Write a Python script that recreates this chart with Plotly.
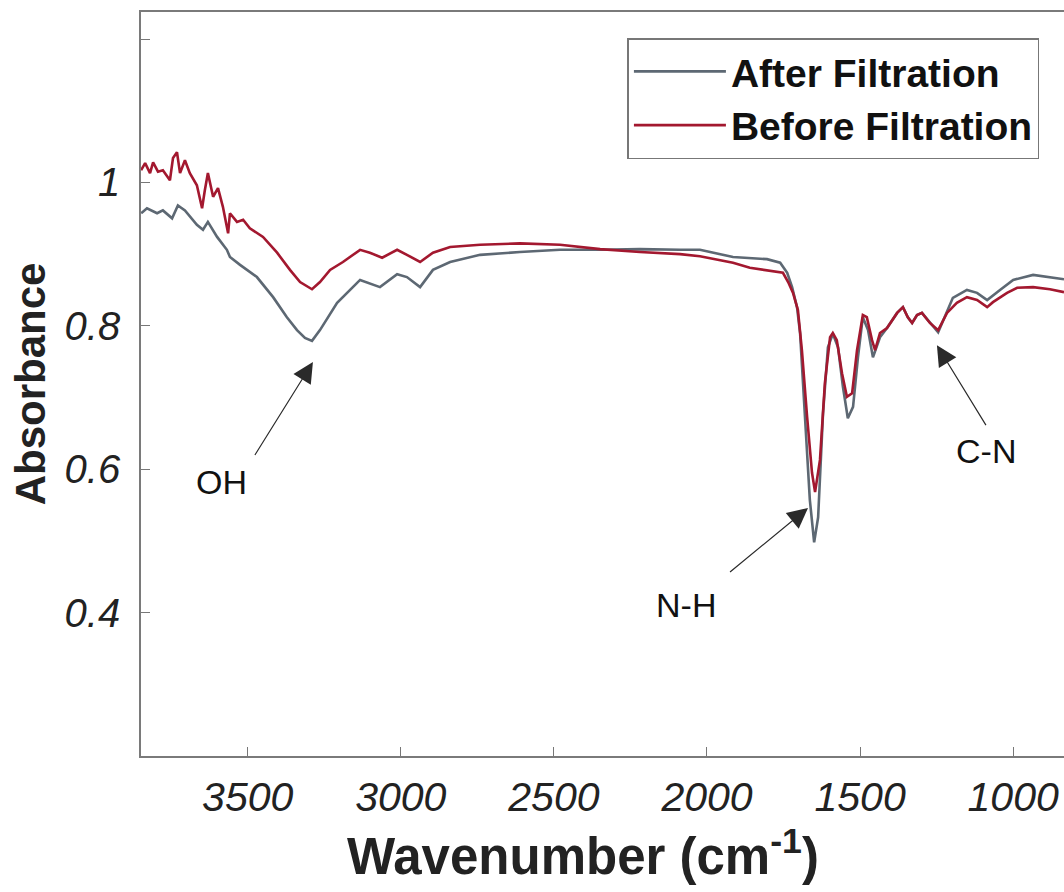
import plotly.graph_objects as go

# ---- data (wavenumber cm^-1, absorbance) ----
before_wn = [3848, 3835, 3819, 3809, 3793, 3777, 3754, 3744, 3731, 3721, 3705, 3689, 3666, 3649,
             3640, 3630, 3613, 3597, 3581, 3564, 3558, 3535, 3515, 3493, 3450, 3404, 3362, 3329,
             3290, 3264, 3231, 3189, 3133, 3101, 3061, 3012, 2980, 2937, 2895, 2839, 2741, 2611,
             2480, 2415, 2349, 2219, 2088, 2023, 1915, 1860, 1752, 1735, 1719, 1703, 1690, 1673,
             1657, 1647, 1631, 1615, 1598, 1589, 1576, 1559, 1543, 1526, 1510, 1491, 1478, 1461,
             1451, 1435, 1412, 1379, 1360, 1344, 1330, 1314, 1298, 1272, 1245, 1216, 1184, 1151,
             1118, 1085, 1066, 1020, 987, 935, 880, 834]
before_abs = [1.017, 1.027, 1.013, 1.028, 1.015, 1.017, 1.003, 1.034, 1.042, 1.013, 1.031, 1.013,
              0.996, 0.964, 0.989, 1.013, 0.980, 0.992, 0.966, 0.929, 0.957, 0.945, 0.948, 0.936,
              0.924, 0.902, 0.878, 0.861, 0.851, 0.861, 0.878, 0.889, 0.906, 0.902, 0.895, 0.906,
              0.899, 0.889, 0.902, 0.910, 0.913, 0.915, 0.913, 0.910, 0.907, 0.903, 0.900, 0.897,
              0.888, 0.881, 0.874, 0.861, 0.846, 0.822, 0.766, 0.673, 0.595, 0.568, 0.613, 0.720,
              0.784, 0.790, 0.780, 0.734, 0.701, 0.706, 0.766, 0.815, 0.812, 0.780, 0.766, 0.790,
              0.797, 0.818, 0.826, 0.812, 0.804, 0.815, 0.818, 0.804, 0.794, 0.818, 0.832, 0.840,
              0.836, 0.826, 0.833, 0.846, 0.853, 0.854, 0.851, 0.847]

after_wn = [3848, 3829, 3796, 3777, 3747, 3728, 3705, 3666, 3646, 3630, 3600, 3568, 3558, 3525,
            3470, 3417, 3372, 3339, 3313, 3290, 3264, 3208, 3133, 3068, 3012, 2980, 2937, 2895,
            2839, 2741, 2611, 2480, 2349, 2219, 2088, 2023, 1915, 1804, 1761, 1738, 1722, 1706,
            1696, 1680, 1664, 1650, 1637, 1621, 1605, 1589, 1572, 1556, 1540, 1523, 1507, 1491,
            1474, 1458, 1435, 1412, 1379, 1360, 1344, 1330, 1314, 1298, 1272, 1245, 1197, 1151,
            1118, 1085, 1043, 1000, 935, 880, 834]
after_abs = [0.957, 0.964, 0.957, 0.961, 0.950, 0.968, 0.961, 0.941, 0.934, 0.945, 0.924, 0.906,
             0.896, 0.885, 0.868, 0.840, 0.812, 0.794, 0.783, 0.779, 0.794, 0.832, 0.864, 0.854,
             0.872, 0.868, 0.854, 0.878, 0.889, 0.899, 0.903, 0.906, 0.906, 0.907, 0.906, 0.906,
             0.896, 0.893, 0.888, 0.874, 0.854, 0.826, 0.790, 0.673, 0.557, 0.498, 0.533, 0.678,
             0.770, 0.789, 0.770, 0.715, 0.671, 0.687, 0.756, 0.812, 0.794, 0.756, 0.784, 0.797,
             0.818, 0.826, 0.812, 0.804, 0.815, 0.818, 0.804, 0.791, 0.839, 0.850, 0.846, 0.836,
             0.850, 0.864, 0.871, 0.868, 0.865]

series_names = ["After Filtration", "Before Filtration"]
x_ticks = [3500, 3000, 2500, 2000, 1500, 1000]
y_ticks = [0.4, 0.6, 0.8, 1.0]
y_tick_text = ["0.4", "0.6", "0.8", "1"]
y_unlabelled_ticks = [1.2]

# annotated peaks: label, tip wavenumber, tip absorbance
peak_labels = ["OH", "N-H", "C-N"]
peak_wn = [3287, 1670, 1249]
peak_abs = [0.7495, 0.546, 0.773]

GRAY = "#5d6873"
RED = "#a3182f"
FONT = "Liberation Sans, Arial, Helvetica, sans-serif"

fig = go.Figure()
fig.add_trace(go.Scatter(x=after_wn, y=after_abs, mode="lines", name=series_names[0],
                         line=dict(color=GRAY, width=2.6)))
fig.add_trace(go.Scatter(x=before_wn, y=before_abs, mode="lines", name=series_names[1],
                         line=dict(color=RED, width=2.6)))

# arrows with their labels (tail offset in px, text anchoring, padding)
arrow_style = [(-58, 93, "right", "top", 8),
               (-78, 64, "right", "top", 14),
               (49, 80, "center", "top", 7)]
for lab, wx, wy, (dx, dy, xa, ya, pad) in zip(peak_labels, peak_wn, peak_abs, arrow_style):
    fig.add_annotation(x=wx, y=wy, xref="x", yref="y", text=lab, showarrow=True,
                       ax=dx, ay=dy, xanchor=xa, yanchor=ya, borderpad=pad, borderwidth=0,
                       arrowhead=2, arrowsize=3.4, arrowwidth=1.2, arrowcolor="#2a2a2a",
                       standoff=0, startstandoff=0,
                       font=dict(family=FONT, size=34, color="#111"))

# x-axis title
fig.add_annotation(x=0.479, y=-0.1305, xref="paper", yref="paper", showarrow=False,
                   text="Wavenumber (cm<sup>-1</sup>)", xanchor="center", yanchor="middle",
                   font=dict(family=FONT, size=51, color="#222", weight="bold"))

fig.update_layout(
    width=1064, height=892,
    margin=dict(l=141, r=0, t=12, b=136),
    paper_bgcolor="white", plot_bgcolor="white",
    font=dict(family=FONT, color="#222"),
    showlegend=True,
    legend=dict(x=0.527, y=0.965, xanchor="left", yanchor="top",
                bgcolor="white", bordercolor="#777", borderwidth=1.5,
                font=dict(family=FONT, size=39, color="#111", weight="bold"),
                itemwidth=92, tracegroupgap=0),
)
fig.update_xaxes(
    range=[3848.5, 834], autorange=False,
    tickvals=x_ticks, ticks="inside", ticklen=9, tickcolor="#777", tickwidth=1.3,
    showline=True, linecolor="#7a7a7a", linewidth=1.6, mirror=True,
    showgrid=False, zeroline=False,
    tickfont=dict(family=FONT, size=41, color="#222", style="italic"),
    ticklabelstandoff=4,
)
fig.update_yaxes(
    range=[0.2, 1.2377], autorange=False,
    tickvals=y_ticks, ticktext=y_tick_text, ticks="inside", ticklen=9, tickcolor="#777", tickwidth=1.3,
    minor=dict(tickvals=y_unlabelled_ticks, ticks="inside", ticklen=9, tickcolor="#777", tickwidth=1.3,
               showgrid=False),
    showline=True, linecolor="#7a7a7a", linewidth=1.6, mirror=False,
    showgrid=False, zeroline=False,
    tickfont=dict(family=FONT, size=40, color="#222", style="italic"),
    ticklabelstandoff=11,
    title=dict(text="Absorbance", standoff=6,
               font=dict(family=FONT, size=42, color="#222", weight="bold")),
)

fig.write_html("out.html", config={"displayModeBar": False},
               post_script="document.body.style.margin='0';document.body.style.overflow='hidden';")
